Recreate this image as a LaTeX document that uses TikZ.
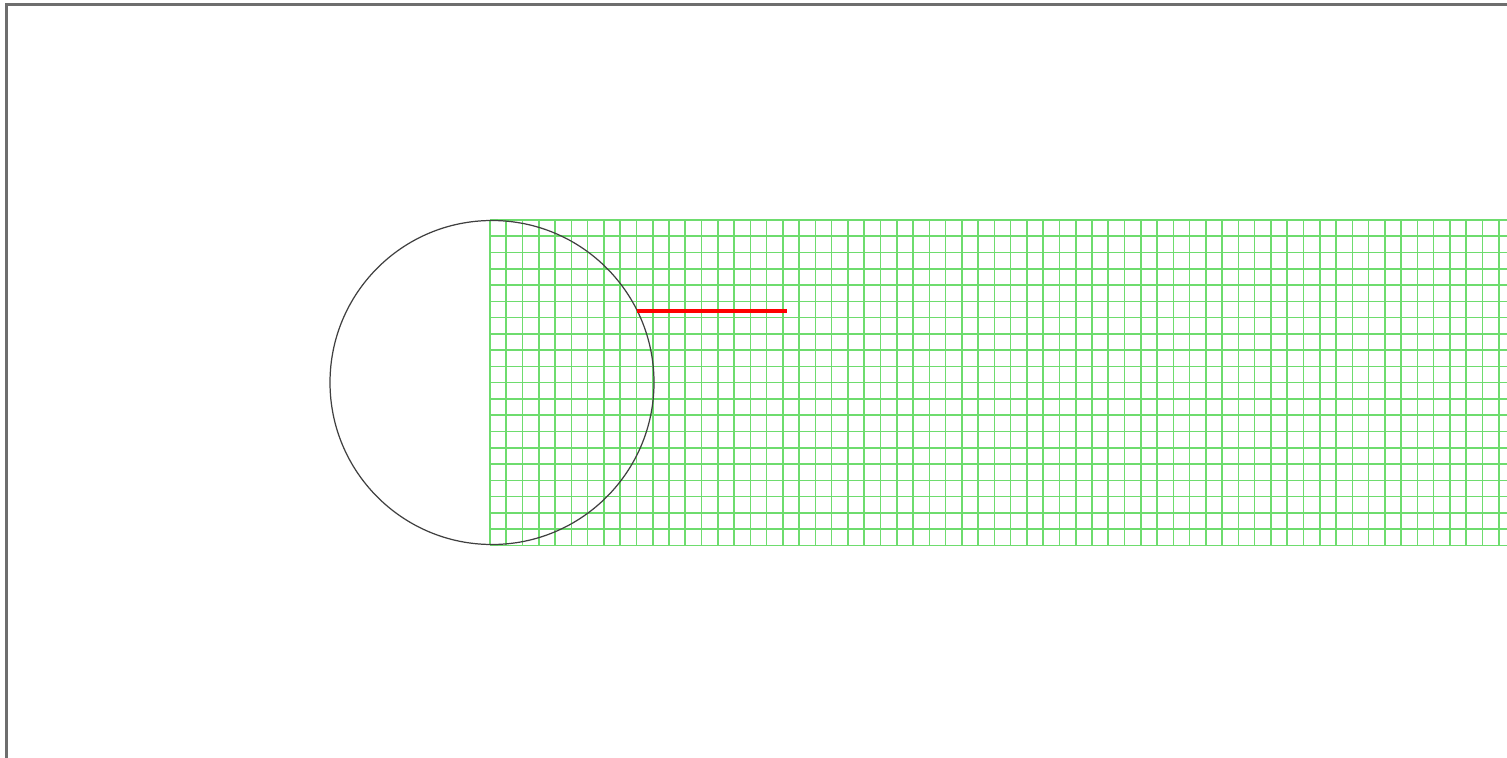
\documentclass[tikz,border=0pt]{standalone}
\usetikzlibrary{calc}
\definecolor{meshgreen}{RGB}{110,220,110}
\definecolor{framegray}{RGB}{110,110,110}
\begin{document}
\begin{tikzpicture}
   [x=0.02cm,y=-0.02cm,
    mesh/.style={meshgreen,line width=0.9pt},
    frame/.style={framegray,line width=1.3pt}]
\useasboundingbox (0,0) rectangle (1507,757);
\clip (0,0) rectangle (1507,757);
\pgfmathsetmacro{\h}{16.27}
\pgfmathsetmacro{\r}{162}
\pgfmathsetmacro{\d}{71.5}
\pgfmathsetmacro{\s}{sqrt(\r-\d)*sqrt(\r+\d)}
\coordinate (o) at (490,220);
\coordinate (c) at (492,382.5);

% frame
\draw[frame] (6.5,760)--(6.5,4.5)--(1510,4.5);

% mesh
\foreach \i in {0,...,63}
   \draw[mesh] ($(o)+(\i*\h,0)$)--++(0,20*\h);
\foreach \j in {0,...,20}
   \draw[mesh] ($(o)+(0,\j*\h)$)--++(1100,0);

% cylinder
\draw[black!75,line width=0.7pt] (c) circle (\r);

% line
\coordinate (p) at ($(c)+(\s,-\d)$);
\draw[red,line width=2.1pt] (p)--++(787-492-\s,0);
\end{tikzpicture}
\end{document}
